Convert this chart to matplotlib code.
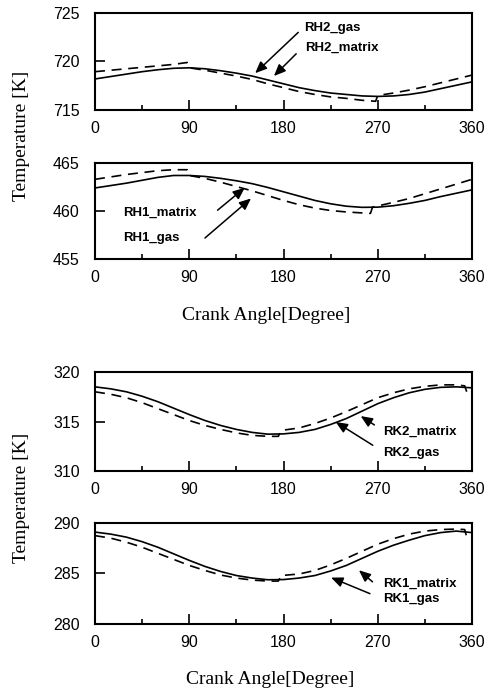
import matplotlib
matplotlib.use("Agg")
import matplotlib.pyplot as plt
from matplotlib.ticker import MultipleLocator

# crank angle points and temperatures
ang = [0, 15, 30, 45, 60, 75, 90, 105, 120, 135, 150, 165, 180,
       195, 210, 225, 240, 255, 270, 285, 300, 315, 330, 345, 360]

rh2_matrix = [718.2, 718.45, 718.7, 718.95, 719.15, 719.3, 719.35, 719.25, 719.05, 718.8, 718.5, 718.1, 717.7,
              717.3, 717.0, 716.75, 716.6, 716.45, 716.4, 716.45, 716.6, 716.85, 717.2, 717.55, 717.9]
ang_rh2g = [0, 15, 30, 45, 60, 75, 88, 90, 105, 120, 135, 150, 165, 180,
            195, 210, 225, 240, 255, 268, 270, 285, 300, 315, 330, 345, 360]
rh2_gas = [718.95, 719.1, 719.25, 719.4, 719.55, 719.7, 719.9, 719.35, 719.1, 718.8, 718.5, 718.15, 717.7, 717.3,
           716.9, 716.6, 716.35, 716.2, 716.0, 715.9, 716.5, 716.75, 717.05, 717.4, 717.8, 718.2, 718.6]

rh1_matrix = [462.4, 462.65, 462.9, 463.2, 463.5, 463.7, 463.7, 463.6, 463.4, 463.15, 462.85, 462.45, 462.0,
              461.55, 461.1, 460.75, 460.5, 460.38, 460.4, 460.55, 460.8, 461.1, 461.5, 461.85, 462.2]
ang_rh1g = [0, 15, 30, 45, 60, 75, 88, 90, 105, 120, 135, 150, 165, 180,
            195, 210, 225, 240, 255, 263, 265, 285, 300, 315, 330, 345, 360]
rh1_gas = [463.3, 463.55, 463.8, 464.0, 464.2, 464.3, 464.3, 463.7, 463.4, 463.0, 462.55, 462.1, 461.6, 461.1,
           460.65, 460.3, 460.05, 459.9, 459.8, 459.75, 460.4, 460.9, 461.3, 461.8, 462.3, 462.8, 463.3]

rk2_matrix = [318.5, 318.3, 318.0, 317.55, 317.0, 316.35, 315.7, 315.1, 314.6, 314.2, 313.9, 313.72, 313.75,
              313.9, 314.2, 314.7, 315.3, 316.05, 316.8, 317.4, 317.9, 318.25, 318.45, 318.5, 318.4]
rk1_matrix = [289.1, 288.9, 288.6, 288.15, 287.6, 286.95, 286.3, 285.7, 285.2, 284.8, 284.55, 284.38, 284.4,
              284.55, 284.8, 285.25, 285.8, 286.5, 287.2, 287.8, 288.3, 288.75, 289.05, 289.2, 289.05]
ang_rkg = [0, 15, 30, 45, 60, 75, 90, 105, 120, 135, 150, 165, 175, 178,
           195, 210, 225, 240, 255, 270, 285, 300, 315, 330, 345, 353, 355, 360]
rk2_gas = [318.0, 317.75, 317.4, 316.9, 316.3, 315.7, 315.1, 314.6, 314.2, 313.85, 313.6, 313.5, 313.5, 314.1,
           314.35, 314.8, 315.35, 316.0, 316.7, 317.4, 317.9, 318.3, 318.55, 318.7, 318.7, 318.6, 318.0, 317.9]
rk1_gas = [288.75, 288.5, 288.1, 287.6, 287.0, 286.4, 285.8, 285.3, 284.85, 284.55, 284.35, 284.25, 284.25, 284.8,
           284.95, 285.3, 285.85, 286.5, 287.2, 287.9, 288.45, 288.9, 289.2, 289.35, 289.4, 289.35, 288.6, 288.5]

ylims = [(715, 725), (455, 465), (310, 320), (280, 290)]
xticks = [0, 90, 180, 270, 360]

plt.rcParams['font.family'] = ['Liberation Sans', 'DejaVu Sans']
fig = plt.figure(figsize=(4.94, 6.98), dpi=100)

W, H = 494.0, 698.0
def box(top, bottom, left=95, right=472):
    return [left / W, 1 - bottom / H, (right - left) / W, (bottom - top) / H]

axs = [fig.add_axes(box(13, 110)), fig.add_axes(box(163, 259)),
       fig.add_axes(box(372, 471)), fig.add_axes(box(523, 624))]

series = [(ang, rh2_matrix, ang_rh2g, rh2_gas),
          (ang, rh1_matrix, ang_rh1g, rh1_gas),
          (ang, rk2_matrix, ang_rkg, rk2_gas),
          (ang, rk1_matrix, ang_rkg, rk1_gas)]

for ax, (xs, ys, xg, yg), yl in zip(axs, series, ylims):
    ax.plot(xs, ys, '-', color='black', lw=1.2)
    ax.plot(xg, yg, '--', color='black', lw=1.2, dashes=(6, 4))
    ax.set_xlim(0, 360)
    ax.set_ylim(*yl)
    ax.set_xticks(xticks)
    ax.xaxis.set_minor_locator(MultipleLocator(45))
    ax.set_yticks([yl[0], yl[0] + 5, yl[1]])
    ax.tick_params(axis='both', which='major', direction='in', length=7, width=1.2,
                   labelsize=11.5, colors='black')
    ax.tick_params(axis='x', which='major', pad=8)
    ax.tick_params(axis='y', which='major', pad=11)
    ax.tick_params(axis='x', which='minor', direction='in', length=3.5, width=1.2)
    for s in ax.spines.values():
        s.set_linewidth(1.5)

akw = dict(arrowstyle='-|>,head_length=0.7,head_width=0.3', color='black', lw=1.1)
tkw = dict(fontsize=9.5, fontweight='bold', va='center', ha='left')

# RH2
axs[0].text(200, 723.5, 'RH2_gas', **tkw)
axs[0].annotate('', xy=(151, 718.6), xytext=(196, 723.2), arrowprops=akw)
axs[0].text(201, 721.4, 'RH2_matrix', **tkw)
axs[0].annotate('', xy=(169, 718.3), xytext=(194, 721.0), arrowprops=akw)
# RH1
axs[1].text(27, 459.8, 'RH1_matrix', **tkw)
axs[1].annotate('', xy=(145, 462.6), xytext=(115, 459.9), arrowprops=akw)
axs[1].text(27, 457.15, 'RH1_gas', **tkw)
axs[1].annotate('', xy=(151, 461.5), xytext=(103, 457.0), arrowprops=akw)
# RK2
axs[2].text(275, 313.97, 'RK2_matrix', **tkw)
axs[2].annotate('', xy=(251.5, 315.7), xytext=(269, 314.5), arrowprops=akw)
axs[2].text(275, 311.85, 'RK2_gas', **tkw)
axs[2].annotate('', xy=(227.6, 315.1), xytext=(267.5, 312.45), arrowprops=akw)
# RK1
axs[3].text(275, 284.0, 'RK1_matrix', **tkw)
axs[3].annotate('', xy=(250, 285.5), xytext=(267, 284.0), arrowprops=akw)
axs[3].text(275, 282.45, 'RK1_gas', **tkw)
axs[3].annotate('', xy=(223, 284.7), xytext=(265, 282.9), arrowprops=akw)

lab = dict(family=['Liberation Serif', 'DejaVu Serif'], fontsize=14)
fig.text(22 / W, 1 - 136 / H, 'Temperature [K]', rotation=90, ha='center', va='center', **lab)
fig.text(22 / W, 1 - 498 / H, 'Temperature [K]', rotation=90, ha='center', va='center', **lab)
fig.text(266 / W, 1 - 315 / H, 'Crank Angle[Degree]', ha='center', va='center', **lab)
fig.text(270 / W, 1 - 680 / H, 'Crank Angle[Degree]', ha='center', va='center', **lab)

fig.savefig('out.png', dpi=100)
